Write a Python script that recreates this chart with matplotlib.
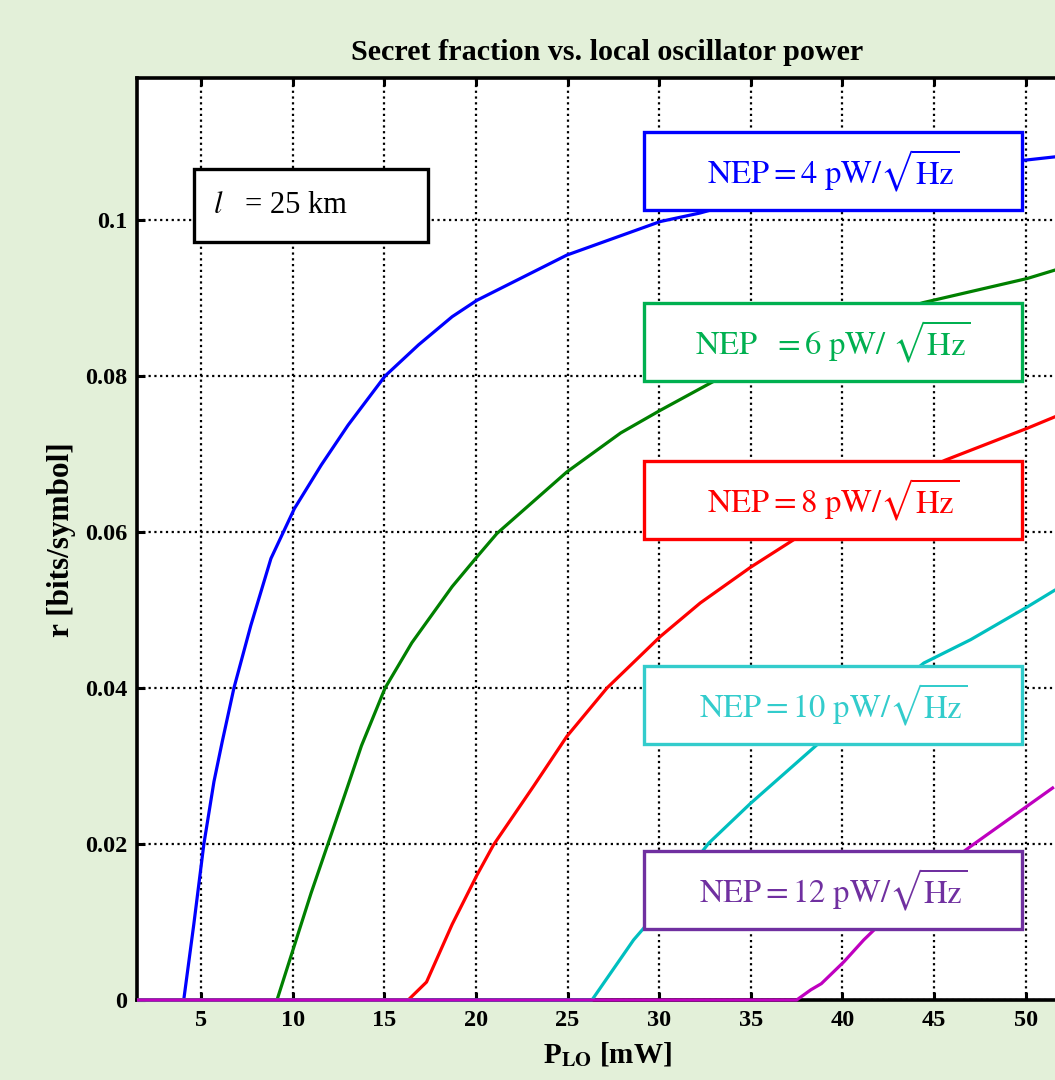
import matplotlib
matplotlib.use("Agg")
import matplotlib.pyplot as plt
from matplotlib.patches import Rectangle

# ---------------- data ----------------
blue_x = [1.5, 4.05, 4.6, 5.15, 5.70, 6.15, 6.79, 7.71, 8.81, 10.09, 11.56, 13.02, 15.04,
          16.87, 18.7, 20.05, 24.96, 30.06, 32.24, 35, 40, 45, 50.09, 51.63]
blue_y = [0, 0, 0.0097, 0.020, 0.028, 0.0331, 0.040, 0.048, 0.0566, 0.0630, 0.0686, 0.0737,
          0.080, 0.0840, 0.0876, 0.0897, 0.0955, 0.0998, 0.1009, 0.1027, 0.1050, 0.1066, 0.1077,
          0.1081]

green_x = [1.5, 9.14, 10.09, 11.0, 11.92, 12.84, 13.75, 15.04, 16.5, 18.7, 20.05, 21.14, 24.96,
           27.9, 30.06, 32.8, 35, 40, 44.4, 50.09, 51.63]
green_y = [0, 0, 0.0070, 0.0137, 0.020, 0.0263, 0.0326, 0.040, 0.0458, 0.0530, 0.0568, 0.0598,
           0.0677, 0.0727, 0.0756, 0.0791, 0.0818, 0.0862, 0.0894, 0.0925, 0.0936]

red_x = [1.5, 16.3, 17.3, 18.7, 20.05, 20.96, 23.14, 24.96, 27.15, 30.06, 32.24, 35, 37.4, 40,
         45.6, 50.09, 51.63]
red_y = [0, 0, 0.0023, 0.0097, 0.0160, 0.0199, 0.0274, 0.0338, 0.040, 0.0466, 0.0509, 0.0555,
         0.0591, 0.0630, 0.0692, 0.0733, 0.0748]

cyan_x = [1.5, 26.33, 28.6, 29.15, 31, 32.7, 34.98, 38.6, 40, 42, 44.44, 47.0, 50.09, 51.63]
cyan_y = [0, 0, 0.0077, 0.0092, 0.0150, 0.0201, 0.0252, 0.0327, 0.0349, 0.0385, 0.0432, 0.0462,
          0.0504, 0.0526]

magenta_x = [1.5, 37.5, 38.27, 38.85, 40.08, 41.16, 41.73, 44, 47.0, 51.54]
magenta_y = [0, 0, 0.0013, 0.0021, 0.0049, 0.0077, 0.0090, 0.0145, 0.0197, 0.0273]

x_ticks = [5, 10, 15, 20, 25, 30, 35, 40, 45, 50]
y_ticks = [0, 0.02, 0.04, 0.06, 0.08, 0.1]
y_tick_labels = ["0", "0.02", "0.04", "0.06", "0.08", "0.1"]

nep_labels = [r"$\mathrm{NEP} = 4\ \mathrm{pW}/\sqrt{\mathrm{Hz}}$",
              r"$\mathrm{NEP}\ \ = 6\ \mathrm{pW}/\ \sqrt{\mathrm{Hz}}$",
              r"$\mathrm{NEP} = 8\ \mathrm{pW}/\sqrt{\mathrm{Hz}}$",
              r"$\mathrm{NEP} = 10\ \mathrm{pW}/\sqrt{\mathrm{Hz}}$",
              r"$\mathrm{NEP} = 12\ \mathrm{pW}/\sqrt{\mathrm{Hz}}$"]

# ---------------- style ----------------
plt.rcParams['mathtext.fontset'] = 'stix'
plt.rcParams['font.family'] = ['Liberation Serif', 'DejaVu Serif']

W, H = 1055, 1080
fig = plt.figure(figsize=(W / 100, H / 100), dpi=100, facecolor='#e3f0d9')

ax_l, ax_r, ax_t, ax_b = 137, 1077, 78, 1000
ax = fig.add_axes([ax_l / W, 1 - ax_b / H, (ax_r - ax_l) / W, (ax_b - ax_t) / H])
ax.set_facecolor('white')

line_cols = ['#0000ff', '#008000', '#ff0000', '#00bfbf', '#bf00bf']
series = [(blue_x, blue_y), (green_x, green_y), (red_x, red_y), (cyan_x, cyan_y),
          (magenta_x, magenta_y)]
for (xs, ys), c in zip(series, line_cols):
    ax.plot(xs, ys, color=c, lw=2.3, zorder=3, clip_on=False, solid_capstyle='butt',
            solid_joinstyle='round')

ax.set_xlim(1.5, 52.8)
ax.set_ylim(0, 0.1182)
ax.set_xticks(x_ticks)
ax.set_yticks(y_ticks)
ax.set_yticklabels(y_tick_labels)
ax.grid(True, color='black', linestyle=(0, (1, 1.6)), linewidth=1.6, zorder=1)
ax.set_axisbelow(True)
ax.tick_params(direction='in', length=6, width=2.2, top=True, right=True,
               labelsize=17.5, pad=7)
for lab in ax.get_xticklabels() + ax.get_yticklabels():
    lab.set_fontweight('bold')
for sp in ax.spines.values():
    sp.set_linewidth(2.6)
    sp.set_zorder(2.5)

# ---------------- boxes ----------------
def px_box(x0, y0, x1, y1, ec, lw=2.4):
    fx0 = (x0 - ax_l) / (ax_r - ax_l)
    fx1 = (x1 - ax_l) / (ax_r - ax_l)
    fy0 = (ax_b - y1) / (ax_b - ax_t)
    fy1 = (ax_b - y0) / (ax_b - ax_t)
    r = Rectangle((fx0, fy0), fx1 - fx0, fy1 - fy0, transform=ax.transAxes,
                  facecolor='white', edgecolor=ec, linewidth=lw, zorder=5, clip_on=False)
    ax.add_patch(r)
    return (fx0 + fx1) / 2, (fy0 + fy1) / 2

cx, cy = px_box(194, 169, 428, 242, 'black')
ax.text((213 - ax_l) / (ax_r - ax_l), cy, r"$\mathit{l}$", transform=ax.transAxes,
        ha='left', va='center', fontsize=22, zorder=6)
ax.text((245 - ax_l) / (ax_r - ax_l), cy, "= 25 km", transform=ax.transAxes,
        ha='left', va='center', fontsize=22, zorder=6)

box_cols = ['#0000ff', '#00b050', '#ff0000', '#33cccc', '#7030a0']
rows = [(132, 210), (303, 381), (461, 539), (666, 744), (851, 929)]
for lab, col, (t, b) in zip(nep_labels, box_cols, rows):
    cx, cy = px_box(644, t, 1022, b, col)
    ax.text(cx, cy, lab, transform=ax.transAxes, ha='center', va='center',
            fontsize=23.5, color=col, zorder=6)

# ---------------- labels ----------------
fig.text(607 / W, 1 - 52 / H, "Secret fraction vs. local oscillator power",
         ha='center', va='center', fontsize=21.7, fontweight='bold')
fig.text(62 / W, 1 - 540 / H, "r [bits/symbol]", rotation=90, ha='center', va='center',
         fontsize=22.5, fontweight='bold')
fig.text(607 / W, 1 - 1055 / H, r"P$_{\mathbf{LO}}$ [mW]", ha='center', va='center',
         fontsize=21, fontweight='bold')

fig.savefig("out.png", dpi=100, facecolor=fig.get_facecolor())
